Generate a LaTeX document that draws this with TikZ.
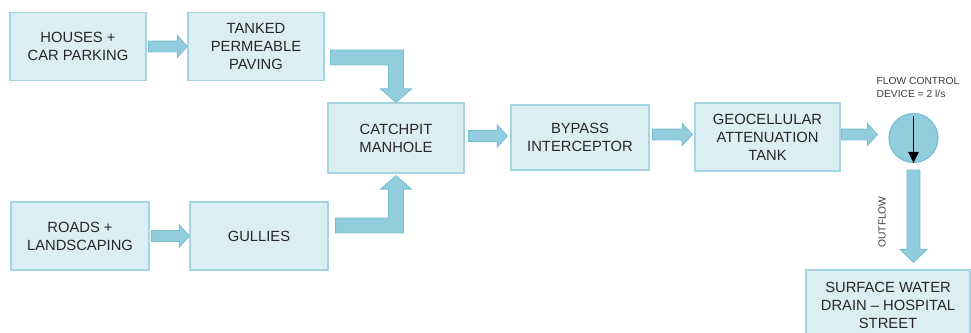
\documentclass[tikz,border=0pt]{standalone}
\usepackage{fontspec}
\setmainfont{Liberation Sans}
\usetikzlibrary{calc,arrows.meta}

\definecolor{boxfill}{RGB}{219,238,244}
\definecolor{boxline}{RGB}{165,213,226}
\definecolor{arrowfill}{RGB}{146,205,221}
\definecolor{arrowline}{RGB}{118,190,210}
\definecolor{txt}{RGB}{38,38,38}

\tikzset{
  box/.style={draw=boxline, fill=boxfill, line width=0.9pt, align=center,
    text=txt, font=\fontsize{10.5}{12.8}\selectfont,
    minimum width=3.4cm, minimum height=1.7cm, inner sep=0pt},
  blockarrow/.style={draw=arrowline, fill=arrowfill, line width=0.6pt, line join=miter},
  smalltext/.style={text=txt!90, font=\fontsize{7.3}{9.2}\selectfont, inner sep=0pt}
}

% straight arrow to the right: start, tip
\newcommand{\harrow}[2]{%
\filldraw[blockarrow] let \p1=(#1), \p2=(#2) in
  (\x1,\y1+3.9pt) -- (\x2-7.1pt,\y1+3.9pt) -- (\x2-7.1pt,\y1+7.8pt) -- (\x2,\y1)
  -- (\x2-7.1pt,\y1-7.8pt) -- (\x2-7.1pt,\y1-3.9pt) -- (\x1,\y1-3.9pt) -- cycle;}

% elbow arrow: start, tip, 1 = down / -1 = up
\newcommand{\elbowarrow}[3]{%
\filldraw[blockarrow] let \p1=(#1), \p2=(#2) in
  (\x1,{\y1+(#3)*5.3pt}) -- (\x2+5.3pt,{\y1+(#3)*5.3pt}) -- (\x2+5.3pt,{\y2+(#3)*9.6pt})
  -- (\x2+11pt,{\y2+(#3)*9.6pt}) -- (\x2,\y2) -- (\x2-11pt,{\y2+(#3)*9.6pt})
  -- (\x2-5.3pt,{\y2+(#3)*9.6pt}) -- (\x2-5.3pt,{\y1-(#3)*5.3pt}) -- (\x1,{\y1-(#3)*5.3pt}) -- cycle;}

\begin{document}
\begin{tikzpicture}[x=0.025cm,y=-0.025cm]
\useasboundingbox (0,0) rectangle (971,333);
\clip (0,0) rectangle (971,333);

%Top row
\node[box] (houses) at (78,46.5) {HOUSES +\\CAR PARKING};
\node[box] (tanked) at (256,46.5) {TANKED\\PERMEABLE\\PAVING};

%Bottom row
\node[box, minimum width=3.45cm] (roads) at (80,236) {ROADS +\\LANDSCAPING};
\node[box, minimum width=3.45cm] (gullies) at (259,236) {GULLIES};

%Main line
\node[box, minimum height=1.75cm] (catchpit) at (396,138) {CATCHPIT\\MANHOLE};
\node[box, minimum width=3.45cm, minimum height=1.625cm] (bypass) at (580,137.5) {BYPASS\\INTERCEPTOR};
\node[box, minimum width=3.625cm] (geo) at (767.5,137) {GEOCELLULAR\\ATTENUATION\\TANK};
\node[circle, draw=arrowline, fill=arrowfill, line width=0.8pt, minimum size=1.225cm, inner sep=0pt] (valve) at (913.5,138) {};
\node[smalltext, align=left] (valvelabel) at (918,87.5) {FLOW CONTROL\\DEVICE = 2 l/s};
\node[box, minimum width=4.1cm, minimum height=1.75cm] (drain) at (888,305) {SURFACE WATER\\DRAIN -- HOSPITAL\\STREET};

%Arrows
\harrow{$(houses.east)+(2,0)$}{tanked.west}
\harrow{$(roads.east)+(2,0)$}{gullies.west}
\harrow{$(catchpit.east)+(4,-2)$}{$(bypass.west)+(-3,0)$}
\harrow{$(bypass.east)+(3,-3)$}{$(geo.west)+(-2,0)$}
\harrow{$(geo.east)+(1,-2.5)$}{$(valve.west)+(-11,0)$}

\elbowarrow{$(tanked.east)+(6,11)$}{catchpit.north}{1}
\elbowarrow{$(gullies.east)+(7,-10.5)$}{$(catchpit.south)+(0,2)$}{-1}

\filldraw[blockarrow] let \p1=($(valve.south)+(0,7)$), \p2=($(drain.north)+(0,-7)$) in
  (\x1-4.6pt,\y1) -- (\x1+4.6pt,\y1) -- (\x1+4.6pt,\y2+9.2pt) -- (\x1+9.6pt,\y2+9.2pt)
  -- (\x1,\y2) -- (\x1-9.6pt,\y2+9.2pt) -- (\x1-4.6pt,\y2+9.2pt) -- cycle;
\node[smalltext, rotate=90] (outflow) at (882,222) {OUTFLOW};

\draw[line width=0.7pt, -{Triangle[width=7.5pt,length=8pt]}] ($(valve.north)+(0,3)$) -- (valve.south);

\end{tikzpicture}
\end{document}
